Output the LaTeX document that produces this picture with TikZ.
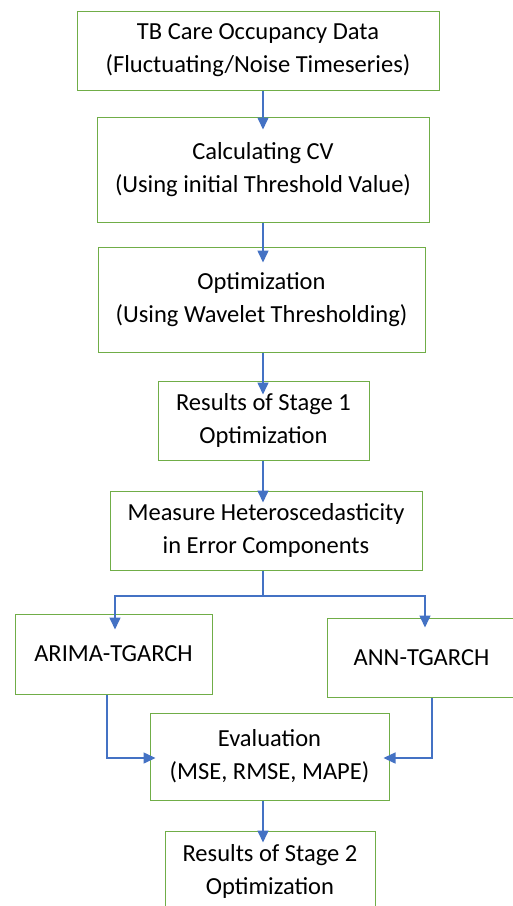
\documentclass[tikz,border=0pt]{standalone}
\usepackage{fontspec}
\setmainfont{Carlito}
\usetikzlibrary{arrows.meta}
\definecolor{boxgreen}{RGB}{112,173,71}
\definecolor{arrblue}{RGB}{68,114,196}
\tikzset{
  box/.style={draw=boxgreen, line width=1pt, fill=white, align=center, inner sep=0pt,
    font=\fontsize{24.5}{33}\selectfont},
  arr/.style={draw=arrblue, line width=1.5pt, -{Triangle[length=12pt,width=11pt]}},
}
\begin{document}
\begin{tikzpicture}[x=1pt,y=-1pt]
\useasboundingbox (0,0) rectangle (513,906);
\fill[white] (0,0) rectangle (513,906);
\node[box, minimum width=362pt, minimum height=79pt] (b1) at (258,50.5) {TB Care Occupancy Data\\(Fluctuating/Noise Timeseries)};
\node[box, minimum width=332pt, minimum height=105pt] (b2) at (263,169.5) {Calculating CV\\(Using initial Threshold Value)};
\node[box, minimum width=327pt, minimum height=105pt] (b3) at (261.5,299.5) {Optimization\\(Using Wavelet Thresholding)};
\node[box, minimum width=211pt, minimum height=79pt] (b4) at (263.5,420.5) {Results of Stage 1\\Optimization};
\node[box, minimum width=312pt, minimum height=79pt] (b5) at (266,530.5) {Measure Heteroscedasticity\\in Error Components};
\node[box, minimum width=197pt, minimum height=80pt] (b6) at (113.5,654) {ARIMA-TGARCH};
\node[box, minimum width=189pt, minimum height=79pt] (b7) at (421.5,657.5) {ANN-TGARCH};
\node[box, minimum width=239pt, minimum height=87pt] (b8) at (269.5,756.5) {Evaluation\\(MSE, RMSE, MAPE)};
\node[box, minimum width=210pt, minimum height=80pt] (b9) at (270,871) {Results of Stage 2\\Optimization};
\coordinate (ax) at (263,0);
\coordinate (sp) at (263,596);
\coordinate (lx) at (115,0);
\coordinate (rx) at (425,0);
\coordinate (ex) at (107,0);
\coordinate (fx) at (432,0);
\coordinate (ey) at (0,758);
\draw[arr] (b1.south -| ax) -- ([yshift=-13pt]b2.north -| ax);
\draw[arr] (b2.south -| ax) -- ([yshift=-16pt]b3.north -| ax);
\draw[arr] (b3.south -| ax) -- ([yshift=-14pt]b4.north -| ax);
\draw[arr] (b4.south -| ax) -- ([yshift=-12pt]b5.north -| ax);
\draw[draw=arrblue, line width=1.5pt] (b5.south -| ax) -- (sp);
\draw[arr] (sp) -| ([yshift=-16pt]b6.north -| lx);
\draw[arr] (sp) -| ([yshift=-10pt]b7.north -| rx);
\draw[arr] (b6.south -| ex) |- ([xshift=6pt]b8.west |- ey);
\draw[arr] (b7.south -| fx) |- ([xshift=-6pt]b8.east |- ey);
\draw[arr] (b8.south -| ax) -- ([yshift=-12pt]b9.north -| ax);
\end{tikzpicture}
\end{document}
